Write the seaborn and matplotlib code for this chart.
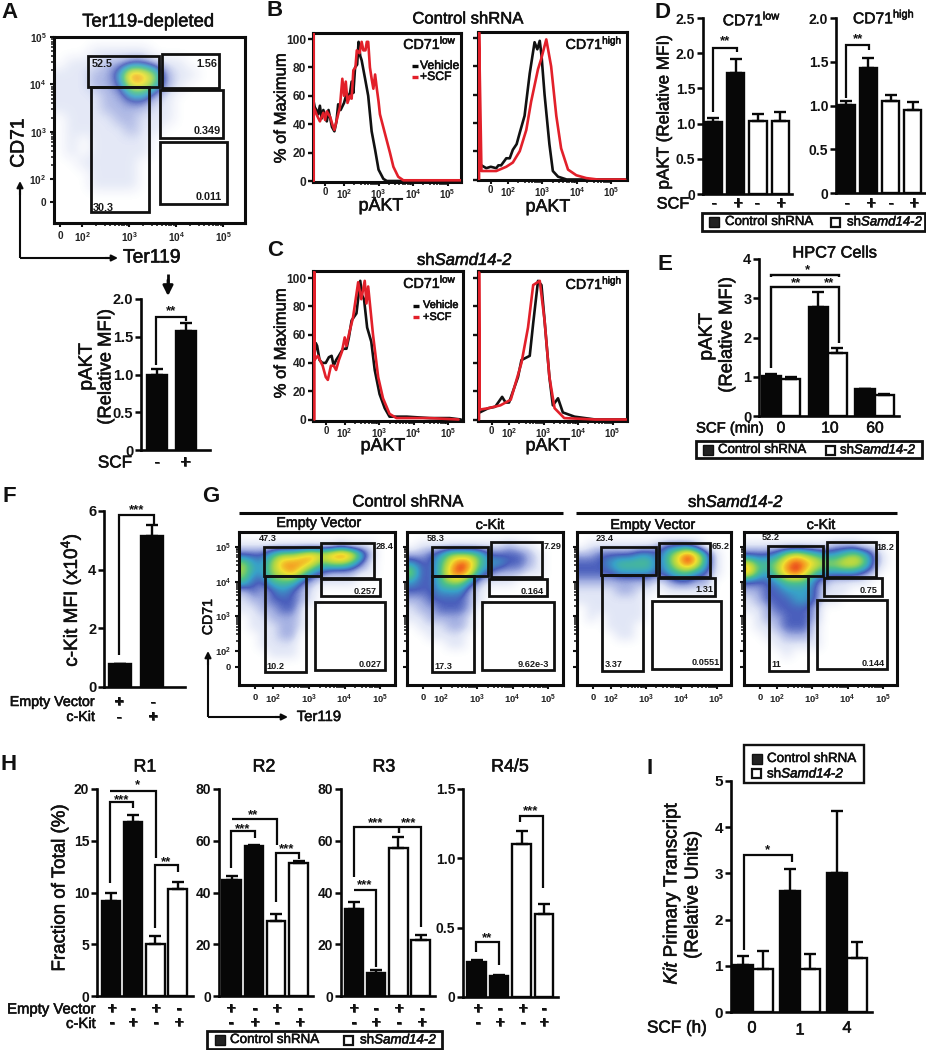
import numpy as np
import pandas as pd
import matplotlib
matplotlib.use('Agg')
import matplotlib.pyplot as plt
import matplotlib.patheffects as pe
from matplotlib.colors import LinearSegmentedColormap
from matplotlib.patches import Rectangle
import seaborn as sns

sns.set_theme(style='white')
plt.rcParams['font.family'] = ['Liberation Sans', 'DejaVu Sans']
plt.rcParams['mathtext.fontset'] = 'custom'
plt.rcParams['mathtext.rm'] = 'Liberation Sans'
plt.rcParams['mathtext.bf'] = 'Liberation Sans:bold'
plt.rcParams['mathtext.it'] = 'Liberation Sans:italic'
plt.rcParams['mathtext.cal'] = 'Liberation Sans:italic'
plt.rcParams['mathtext.default'] = 'rm'

W, H = 926, 1050
SAMD = r'sh$\mathcal{Samd14}\text{-}\mathcal{2}$'
SHRNA = 'Control shRNA'

# ---------- bar data ----------
a_vals = [1.0, 1.57];                 a_top = [1.07, 1.68]
d1_vals = [1.02, 1.72, 1.03, 1.04];   d1_top = [1.08, 1.92, 1.13, 1.16]
d2_vals = [1.01, 1.43, 1.05, 0.95];   d2_top = [1.05, 1.54, 1.12, 1.04]
e_times = ['0', '10', '60']
e_ctrl = [1.03, 2.78, 0.68];          e_ctrl_top = [1.07, 3.17, 0.70]
e_sh = [0.95, 1.60, 0.54];            e_sh_top = [0.99, 1.72, 0.56]
f_vals = [0.77, 5.15];                f_top = [0.80, 5.52]
h1_vals = [9.2, 16.8, 5.0, 10.3];     h1_top = [10.0, 17.5, 5.8, 11.0]
h2_vals = [44.7, 58.0, 28.8, 51.5];   h2_top = [46.5, 58.5, 31.5, 52.3]
h3_vals = [33.5, 9.0, 57.3, 21.5];    h3_top = [36.3, 10.2, 61.5, 23.5]
h4_vals = [0.25, 0.155, 1.10, 0.60];  h4_top = [0.27, 0.16, 1.20, 0.67]
i_times = ['0', '1', '4']
i_ctrl = [1.02, 2.62, 3.0];           i_ctrl_top = [1.22, 3.10, 4.35]
i_sh = [0.93, 0.92, 1.17];            i_sh_top = [1.33, 1.26, 1.52]

# ---------- histogram data (log10 pAKT, % of maximum) ----------
b1_bk_x = [1.11,1.15,1.2,1.25,1.3,1.35,1.4,1.45,1.5,1.55,1.6,1.65,1.72,1.78,1.83,1.9,2.0,2.08,2.15,2.22,2.27,2.32,2.38,2.42,2.47,2.51,2.61,2.7,2.8,2.9,3.0,3.14,3.24,5.4]
b1_bk_y = [57,52,50,47,53,44,50,46,42,50,44,38,35,42,54,50,55,62,58,70,62,80,82,98,88,85,72,60,35,22,8,1.5,0,0]
b1_rd_x = [1.12,1.12,1.12,1.2,1.3,1.4,1.45,1.5,1.6,1.66,1.72,1.8,1.88,1.95,2.0,2.05,2.1,2.17,2.22,2.27,2.33,2.37,2.45,2.51,2.56,2.62,2.66,2.7,2.75,2.8,2.85,2.9,2.95,3.0,3.04,3.19,3.33,3.43,3.57,3.72,5.4]
b1_rd_y = [0,104,52,47,42,48,43,49,45,40,36,44,52,72,60,70,55,60,58,78,80,92,90,98,92,92,98,98,80,72,65,75,65,56,47,33,20,10,3,0.5,0.5]
b2_bk_x = [1.23,1.37,1.5,1.66,1.72,1.8,1.95,2.05,2.14,2.25,2.34,2.48,2.63,2.77,2.85,2.92,2.97,3.06,3.2,3.3,3.45,3.7,5.4]
b2_bk_y = [10,8,9,8,10,10,15,15,21,25,33,45,75,97,92,98,88,60,25,6,2,0,0]
b2_rd_x = [1.16,1.16,1.23,1.66,1.95,2.14,2.34,2.53,2.67,2.87,2.96,3.11,3.25,3.4,3.54,3.74,3.98,4.27,4.6,5.4]
b2_rd_y = [0,104,6,6,9,12,20,35,55,78,85,99,80,45,22,7,3,1,0,0]
c1_bk_x = [1.12,1.16,1.2,1.27,1.35,1.45,1.54,1.62,1.68,1.75,1.83,1.95,2.05,2.12,2.2,2.34,2.45,2.5,2.56,2.65,2.77,2.87,3.01,3.16,3.3,3.8,4.46,5.04,5.37]
c1_bk_y = [45,54,52,42,40,40,44,45,38,42,45,50,50,58,70,75,98,88,85,65,55,35,18,8,2,2,1,1,0]
c1_rd_x = [1.12,1.12,1.12,1.22,1.36,1.45,1.51,1.6,1.68,1.75,1.83,1.92,2.0,2.05,2.12,2.24,2.39,2.48,2.58,2.63,2.68,2.82,2.97,3.11,3.3,3.5,4.46,5.3]
c1_rd_y = [0,104,42,45,38,30,28,38,38,35,42,48,58,52,60,72,97,85,98,82,94,60,30,15,4,1,1,0]
c2_bk_x = [1.15,1.4,1.6,1.8,1.9,2.0,2.26,2.36,2.6,2.7,2.84,2.94,3.03,3.17,3.27,3.42,3.56,3.9,4.5,5.4]
c2_bk_y = [5,8,9,16,12,12,30,42,45,68,98,95,70,30,10,15,5,2,0,0]
c2_rd_x = [1.13,1.13,1.15,1.4,1.75,2.05,2.36,2.55,2.7,2.89,3.03,3.17,3.32,3.6,4.5,5.4]
c2_rd_y = [0,104,7,8,10,14,40,65,95,98,70,30,8,1,0,0]

# ---------- flow cytometry density (coarse reading, 0 empty .. 9 densest) ----------
a_grid = ['0', '00011111', '01112233211', '111224986211', '111223775210', '111122442100',
          '1111222211', '0111122111', '011111211', '01011111', '01011111', '0011111', '0001111', '0001111', '0']
g1_grid = ['0', '11111111112111', '33356678789852', '64468887566531', '64467864322211', '533555321111',
           '23234321', '12233321', '1122331', '0112221', '0111221', '001122', '001111', '000111', '0']
g2_grid = ['0', '01111111112110', '22346665333321', '43357985443321', '63358974322211', '43356642111',
           '33344421', '22333321', '1223332', '1122221', '0111221', '001111', '000011', '0']
g3_grid = ['0', '01111111233320', '2233334435797410', '3334555535797410', '3333444434554310', '22222222123322',
           '11112211011111', '1111111', '0111111', '0101111', '0001110', '000011', '0']
g4_grid = ['0', '111111111222110', '333467654456531', '755689876677631', '854689754444320', '3334555321111',
           '22334443111', '1233344311', '11233332', '01223332', '01123331', '00112221', '00011111', '00001', '0']

a_gates = [(.18, .551, .731, .90), (.192, .497, .057, .731), (.567, .866, .726, .91), (.555, .883, .457, .717), (.555, .904, .104, .435)]
g1_gates = [(.16, .523, .711, .902), (.523, .866, .702, .928), (.523, .905, .58, .696), (.485, .935, .098, .543), (.168, .43, .087, .711)]
g2_gates = [(.16, .52, .711, .902), (.54, .865, .707, .935), (.525, .895, .58, .696), (.48, .94, .098, .543), (.16, .43, .087, .711)]
g3_gates = [(.158, .51, .72, .902), (.53, .865, .707, .93), (.523, .896, .58, .70), (.485, .935, .104, .547), (.165, .427, .091, .72)]
g4_gates = [(.159, .516, .711, .906), (.54, .864, .707, .935), (.52, .903, .582, .702), (.48, .934, .104, .554), (.163, .42, .093, .711)]

a_labels = [('52.5', .253, .856), ('1.56', .8, .856), ('0.349', .802, .492), ('0.011', .809, .142), ('30.3', .257, .081)]
g1_labels = [('47.3', .183, .958), ('28.4', .931, .907), ('0.257', .806, .613), ('0.027', .839, .133), ('10.2', .234, .12)]
g2_labels = [('58.3', .183, .958), ('7.29', .931, .907), ('0.164', .802, .613), ('9.62e-3', .811, .133), ('17.3', .232, .12)]
g3_labels = [('23.4', .181, .958), ('65.2', .935, .907), ('1.31', .83, .624), ('0.0551', .836, .144), ('3.37', .236, .133)]
g4_labels = [('52.2', .176, .962), ('18.2', .923, .9), ('0.75', .813, .62), ('0.144', .846, .14), ('11', .209, .133)]

dec_ticks = [2, 3, 4, 5]
dec_labels = [r'$\mathbf{10}^{\mathbf{2}}$', r'$\mathbf{10}^{\mathbf{3}}$', r'$\mathbf{10}^{\mathbf{4}}$', r'$\mathbf{10}^{\mathbf{5}}$']
minor_ticks = [d + m for d in (2, 3, 4) for m in (.3, .48, .6, .7, .78, .85, .9, .95)]

flow_cmap = LinearSegmentedColormap.from_list('flow', ['#ffffff', '#e1e6f6', '#a4b0e2', '#4a5fbc', '#38a2c8',
                                                      '#4cc08a', '#a8d648', '#f0e030', '#f59020', '#e4201c'])
fig = plt.figure(figsize=(W / 100, H / 100), dpi=100, facecolor='white')


def place(x0, y0, x1, y1, **kw):
    ax = fig.add_axes([x0 / W, 1 - y1 / H, (x1 - x0) / W, (y1 - y0) / H], **kw)
    ax.set_facecolor('none')
    return ax


def bars(axis_x, end_x, y0, ytop, ymax, first_c, last_c, bar_w, vals, tops, yticks, ylabels, shaded=(0, 1), fs=10):
    """Four- or two-bar panel with the first bars black and the others white."""
    ax = place(axis_x, ytop, end_x, y0)
    n = len(vals)
    s = (last_c - first_c) / (n - 1)
    df = pd.DataFrame({'c': [str(i) for i in range(n)], 'v': vals,
                       'g': ['k' if i in shaded else 'w' for i in range(n)]})
    sns.barplot(df, x='c', y='v', hue='g', palette={'k': '#070707', 'w': '#ffffff'}, dodge=False, width=(bar_w - 1.5) / s,
                edgecolor='#070707', linewidth=1.7, saturation=1, legend=False, errorbar=None, ax=ax)
    finish(ax, tops, axis_x, end_x, first_c, s, ymax, yticks, ylabels, fs)
    return ax


def grouped(axis_x, end_x, y0, ytop, ymax, first_c, last_c, w, cats, a, atop, b, btop, yticks, ylabels, fs=10):
    ax = place(axis_x, ytop, end_x, y0)
    s = (last_c - first_c) / (len(cats) - 1)
    df = pd.DataFrame({'c': cats * 2, 'v': a + b, 'g': ['k'] * len(a) + ['w'] * len(b)})
    sns.barplot(df, x='c', y='v', hue='g', palette={'k': '#070707', 'w': '#ffffff'}, dodge=True, gap=0, width=w / s,
                edgecolor='#070707', linewidth=1.7, saturation=1, legend=False, errorbar=None, ax=ax)
    tops = [t for pair in zip(atop, btop) for t in pair]
    finish(ax, tops, axis_x, end_x, first_c, s, ymax, yticks, ylabels, fs)
    return ax


def finish(ax, tops, axis_x, end_x, first_c, s, ymax, yticks, ylabels, fs):
    ps = sorted([p for p in ax.patches if p.get_height() > 0], key=lambda p: p.get_x())
    for p, t in zip(ps, tops):
        cx = p.get_x() + p.get_width() / 2
        h = p.get_height()
        ax.errorbar([cx], [h], yerr=[[0], [t - h]], color='#070707', elinewidth=1.7, capsize=4.2, capthick=1.7, zorder=1)
    ax.set_xlim((axis_x - first_c) / s, (end_x - first_c) / s)
    ax.set_ylim(0, ymax)
    ax.set_xlabel('')
    ax.set_ylabel('')
    ax.set_xticks([])
    ax.set_yticks(yticks)
    ax.set_yticklabels(ylabels, fontsize=fs, fontweight='bold', color='#111111')
    ax.tick_params(axis='y', length=4, width=1.8, pad=1.5, left=True, color='#070707')
    sns.despine(ax=ax)
    for k in ('left', 'bottom'):
        ax.spines[k].set_linewidth(1.9)
        ax.spines[k].set_color('#070707')


def flow(x0, y0, x1, y1, grid, gates, labels, xlim, ylim, zero_x, zero_y, show_y=True, fs=6.8, lfs=6.6, alpha=1.0, glw=2.0):
    ax = place(x0, y0, x1, y1)
    arr = np.array([[int(c) for c in r.ljust(16, '0')] for r in grid + ['0'] * (17 - len(grid))], dtype=float)
    ax.imshow(arr, extent=(xlim[0], xlim[1], ylim[0], ylim[1]), aspect='auto', cmap=flow_cmap, vmin=0, vmax=9,
              interpolation='bicubic', alpha=alpha, zorder=0)
    ax.set_xlim(*xlim)
    ax.set_ylim(*ylim)
    for gx0, gx1, gy0, gy1 in gates:
        ax.add_patch(Rectangle((gx0, gy0), gx1 - gx0, gy1 - gy0, transform=ax.transAxes, fill=False,
                               edgecolor='#111111', linewidth=glw, zorder=3))
    for s, fx, fy in labels:
        ax.text(fx, fy, s, transform=ax.transAxes, ha='center', va='center', fontsize=lfs, fontweight='bold',
                color='#1a1a1a', zorder=4)
    ticks_frame(ax, zero_x, zero_y, show_y, fs, glw + .2, True, 2.5)
    return ax


def ticks_frame(ax, zero_x, zero_y, show_y, fs, lw, flow_y, pad):
    ax.set_xticks([zero_x] + dec_ticks)
    ax.set_xticklabels(['0'] + dec_labels, fontsize=fs, fontweight='bold', color='#222222')
    ax.set_xticks(minor_ticks, minor=True)
    if flow_y:
        ax.set_yticks([zero_y] + dec_ticks)
        ax.set_yticklabels((['0'] + dec_labels) if show_y else [''] * 5, fontsize=fs, fontweight='bold', color='#222222')
        ax.set_yticks(minor_ticks, minor=True)
    ax.tick_params(which='major', length=3, width=1.5, pad=pad, bottom=True, left=True, color='#111111')
    ax.tick_params(which='minor', length=2, width=1.1, bottom=True, left=flow_y, color='#111111')
    for sp in ax.spines.values():
        sp.set_visible(True)
        sp.set_linewidth(lw)
        sp.set_color('#0c0c0c')
    ax.grid(False)


def hist(x0, y0, x1, y1, xlim, bk, rd, y_px0, y_px100, show_y, zero_x=1.46):
    ax = place(x0, y0, x1, y1)
    k = (y_px0 - y_px100) / 100
    sns.lineplot(x=bk[0], y=bk[1], color='#111111', lw=1.9, sort=False, estimator=None, errorbar=None, ax=ax, zorder=3.5)
    sns.lineplot(x=rd[0], y=rd[1], color='#e2202a', lw=1.9, sort=False, estimator=None, errorbar=None, ax=ax, zorder=3.6)
    ax.set_xlim(*xlim)
    ax.set_ylim(-(y1 - y_px0) / k, (y_px0 - y0) / k)
    ax.set_yticks(range(0, 101, 20))
    ax.set_yticklabels([str(v) for v in range(0, 101, 20)] if show_y else [''] * 6, fontsize=8.6, fontweight='bold', color='#222222')
    ax.set_xlabel('')
    ax.set_ylabel('')
    ticks_frame(ax, zero_x, 0, show_y, 7.0, 2.2, False, 0.4)
    ax.tick_params(axis='y', which='major', length=3.5, width=1.7, left=True, pad=1.5)
    return ax


# ---------- A ----------
flow(54, 37, 245, 223, a_grid, a_gates, a_labels, (1.40, 5.47), (1.08, 5.0), 1.53, 1.52, fs=7.2, lfs=7.8, alpha=.9)
bars(141, 210, 450, 299, 2.0, 157, 186, 22, a_vals, a_top, [0, .5, 1, 1.5, 2], ['0', '0.5', '1.0', '1.5', '2.0'], fs=10.5)

# ---------- B / C ----------
hist(313, 33, 461, 182, (1.1, 5.39), (b1_bk_x, b1_bk_y), (b1_rd_x, b1_rd_y), 181, 39, True)
hist(478, 32, 627, 180, (1.13, 5.45), (b2_bk_x, b2_bk_y), (b2_rd_x, b2_rd_y), 179.5, 38, False, zero_x=1.5)
hist(313, 271, 463, 421, (1.08, 5.43), (c1_bk_x, c1_bk_y), (c1_rd_x, c1_rd_y), 419.5, 278, True)
hist(478, 271, 627, 421, (1.1, 5.42), (c2_bk_x, c2_bk_y), (c2_rd_x, c2_rd_y), 419.5, 278, False, zero_x=1.5)

# ---------- D ----------
bars(703, 792, 194, 18, 2.5, 713, 780.5, 19, d1_vals, d1_top, [0, .5, 1, 1.5, 2, 2.5], ['0', '0.5', '1.0', '1.5', '2.0', '2.5'])
bars(836, 925, 193, 18, 2.0, 846, 913, 18.5, d2_vals, d2_top, [0, .5, 1, 1.5, 2], ['0', '0.5', '1.0', '1.5', '2.0'])

# ---------- E ----------
grouped(759, 899, 416, 259, 4, 781, 874.5, 38.5, e_times, e_ctrl, e_ctrl_top, e_sh, e_sh_top, [0, 1, 2, 3, 4], ['0', '1', '2', '3', '4'], fs=10.5)

# ---------- F ----------
bars(104, 185, 687, 511, 6, 120, 152, 23, f_vals, f_top, [0, 2, 4, 6], ['0', '2', '4', '6'], fs=10.5)

# ---------- G ----------
gx = (1.05, 5.41)
gy = (1.02, 5.43)
flow(239, 532, 395, 685, g1_grid, g1_gates, g1_labels, gx, gy, 1.5, 1.54)
flow(407, 532, 563, 685, g2_grid, g2_gates, g2_labels, gx, gy, 1.5, 1.54, show_y=False)
flow(577, 532, 731, 685, g3_grid, g3_gates, g3_labels, gx, gy, 1.5, 1.54, show_y=False)
flow(744, 532, 897, 685, g4_grid, g4_gates, g4_labels, gx, gy, 1.5, 1.54, show_y=False)

# ---------- H ----------
bars(97, 193, 996, 789, 20, 111, 177.5, 20, h1_vals, h1_top, [0, 5, 10, 15, 20], ['0', '5', '10', '15', '20'])
bars(219, 313, 996, 789, 80, 231.5, 298.5, 20, h2_vals, h2_top, [0, 20, 40, 60, 80], ['0', '20', '40', '60', '80'])
bars(341, 435, 996, 789, 80, 354, 420.5, 20, h3_vals, h3_top, [0, 20, 40, 60, 80], ['0', '20', '40', '60', '80'])
bars(463, 558, 997, 789, 1.5, 476.5, 544, 20, h4_vals, h4_top, [0, .5, 1, 1.5], ['0', '0.5', '1.0', '1.5'])

# ---------- I ----------
grouped(731, 872, 1012, 781, 5, 753, 847, 40, i_times, i_ctrl, i_ctrl_top, i_sh, i_sh_top, [0, 1, 2, 3, 4, 5], ['0', '1', '2', '3', '4', '5'], fs=11)

# ---------- overlay: annotations in figure pixels ----------
ov = fig.add_axes([0, 0, 1, 1], zorder=20)
ov.set_xlim(0, W)
ov.set_ylim(H, 0)
ov.axis('off')
ov.patch.set_alpha(0)


def T(x, y, s, fs=10, ha='center', rot=0, c='#111111', bold=False):
    t = ov.text(x, y, s, fontsize=fs if bold else fs * 1.07, ha=ha, va='center', rotation=rot,
                fontweight='bold' if bold else 'normal', color=c, rotation_mode='anchor')
    if not bold:
        t.set_path_effects([pe.withStroke(linewidth=.4, foreground=c)])


def L(xs, ys, lw=1.7, c='#0a0a0a'):
    ov.plot(xs, ys, color=c, lw=lw, solid_capstyle='butt', solid_joinstyle='miter', clip_on=False)


def arrow(x0, y0, x1, y1, lw=1.5, ms=9):
    ov.annotate('', xy=(x1, y1), xytext=(x0, y0),
                arrowprops=dict(arrowstyle='-|>', lw=lw, color='#0a0a0a', mutation_scale=ms, shrinkA=0, shrinkB=0))


def bracket(pts, star_x, star_y, stars, lw=1.6):
    L([p[0] for p in pts], [p[1] for p in pts], lw=lw)
    T(star_x, star_y, stars, fs=9.5, bold=True)


def legend_box(x0, y0, x1, y1, s0x, t0x, s1x, t1x, y, fs=10.5):
    ov.add_patch(Rectangle((x0, y0), x1 - x0, y1 - y0, fill=False, ec='#111111', lw=2.0))
    ov.add_patch(Rectangle((s0x, y - 5), 10, 10, fc='#222222', ec='#111111', lw=1))
    T(t0x, y, SHRNA, fs=fs, ha='left')
    ov.add_patch(Rectangle((s1x, y - 4.5), 9, 9, fc='white', ec='#111111', lw=1.6))
    T(t1x, y, SAMD, fs=fs, ha='left')


for s, x, y in [('A', 10, 13), ('B', 275, 11), ('C', 275, 251), ('D', 663, 12), ('E', 665, 265),
                ('F', 9, 497), ('G', 211, 496), ('H', 9, 765), ('I', 650, 768)]:
    T(x, y, s, fs=16, bold=True)

# A
T(148, 22, 'Ter119-depleted', fs=12.4)
T(19, 143, 'CD71', fs=13, rot=90)
T(152, 258, 'Ter119', fs=13)
L([20, 20], [258, 190], lw=1.5); arrow(20, 195, 20, 181)
L([20, 110], [258, 258], lw=1.5); arrow(105, 258, 118, 258)
L([168, 168], [274, 284], lw=2.0); arrow(168, 280, 168, 296, lw=2, ms=15)
T(87, 367, 'pAKT', fs=12.8, rot=90)
T(106, 367, '(Relative MFI)', fs=12.4, rot=90)
T(115, 463, 'SCF', fs=11.5); T(157, 463, '-', fs=12); T(185, 463, '+', fs=12.5)
bracket([(156, 365), (156, 317), (186, 317), (186, 321)], 171, 311, '**')

# B / C
T(468, 19, SHRNA, fs=11.2)
T(465, 260, SAMD, fs=11.2)
T(430, 43, r'CD71$^{low}$', fs=9.6); T(594, 43, r'CD71$^{high}$', fs=9.6)
T(430, 282, r'CD71$^{low}$', fs=9.6); T(594, 283, r'CD71$^{high}$', fs=9.6)
T(281, 108, '% of Maximum', fs=11.2, rot=90); T(281, 343, '% of Maximum', fs=11.2, rot=90)
for x, y in [(381, 206), (548, 207), (383, 446), (548, 446)]:
    T(x, y, 'pAKT', fs=12)
L([412, 418], [66, 66], lw=2.4); L([412, 418], [77, 77], lw=2.4, c='#e2202a')
T(420, 66, 'Vehicle', fs=8.2, ha='left'); T(420, 77, '+SCF', fs=8.2, ha='left')
L([413, 419], [306, 306], lw=2.4); L([413, 419], [317, 317], lw=2.4, c='#e2202a')
T(423, 305, 'Vehicle', fs=7.4, ha='left'); T(423, 317, '+SCF', fs=7.4, ha='left')

# D
T(752, 19, r'CD71$^{low}$', fs=10.5); T(884, 17, r'CD71$^{high}$', fs=10.5)
T(664, 112, 'pAKT (Relative MFI)', fs=11.5, rot=90)
T(673, 204, 'SCF', fs=11)
for x, s in [(714, '-'), (738, '+'), (757, '-'), (781, '+'), (847, '-'), (871, '+'), (891, '-'), (914, '+')]:
    T(x, 204, s, fs=12)
bracket([(713, 112), (713, 48), (737, 48), (737, 52)], 725, 41, '**')
bracket([(846, 98), (846, 45), (869, 45), (869, 50)], 858, 39, '**')
legend_box(702, 213, 925, 231, 709, 725, 831, 847, 222, fs=8.9)

# E
T(835, 253, 'HPC7 Cells', fs=11)
T(707, 337, 'pAKT', fs=12.8, rot=90); T(727, 335, '(Relative MFI)', fs=12.4, rot=90)
T(730, 428.5, 'SCF (min)', fs=10)
for x, s in [(781, '0'), (830, '10'), (875, '60')]:
    T(x, 428, s, fs=10.5)
L([771, 771, 839, 839], [277, 275, 275, 277]); T(807, 270, '*', fs=9.5, bold=True)
L([771, 771, 839, 839], [368, 287, 287, 343]); T(796, 283, '**', fs=9.5, bold=True); T(829, 283, '**', fs=9.5, bold=True)
legend_box(696, 441, 922, 458, 703, 718, 826, 840, 450, fs=8.9)

# F
T(71, 600, r'c-Kit MFI (x10$^{4}$)', fs=12.8, rot=90)
T(95, 702, 'Empty Vector', fs=9.6, ha='right'); T(95, 717, 'c-Kit', fs=9.6, ha='right')
T(119, 702, '+', fs=11); T(153, 702, '-', fs=11); T(119, 717, '-', fs=11); T(153, 717, '+', fs=11)
bracket([(119, 655), (119, 515), (154, 515), (154, 525)], 137, 510, '***')

# G
T(408, 502, SHRNA, fs=11.2); T(736, 502, SAMD, fs=11.2)
L([239, 563], [513, 513], lw=2.2); L([576, 897], [513, 513], lw=2.2)
T(319, 523, 'Empty Vector', fs=9.6); T(490, 525, 'c-Kit', fs=9.6); T(653, 525, 'Empty Vector', fs=9.6); T(821, 525, 'c-Kit', fs=9.6)
T(208, 617, 'CD71', fs=9.5, rot=90)
T(319, 717, 'Ter119', fs=10)
L([208, 208], [717, 660], lw=1.5); arrow(208, 665, 208, 651)
L([208, 280], [717, 717], lw=1.5); arrow(275, 717, 288, 717)

# H
for x, s in [(145, 'R1'), (264, 'R2'), (384, 'R3'), (510, 'R4/5')]:
    T(x, 767, s, fs=12)
T(60, 888, 'Fraction of Total (%)', fs=12.6, rot=90)
T(96, 1009.5, 'Empty Vector', fs=10, ha='right'); T(96, 1024, 'c-Kit', fs=10, ha='right')
for xs in ([112, 133, 156, 179], [231, 255, 277, 300], [354, 376, 399, 422], [478, 500, 523, 544]):
    for x, top, bot in zip(xs, ['+', '-', '+', '-'], ['-', '+', '-', '+']):
        T(x, 1009, top, fs=11.5); T(x, 1023, bot, fs=11.5)
bracket([(110, 791), (156, 791), (156, 858)], 137, 785, '*')
bracket([(110, 883), (110, 802), (133, 802), (133, 808)], 122, 800, '***')
bracket([(155, 928), (155, 865), (178, 865), (178, 872)], 166, 862, '**')
bracket([(232, 819), (277, 819), (277, 845)], 253, 815, '**')
bracket([(231, 868), (231, 831), (255, 831), (255, 838)], 243, 829, '***')
bracket([(276, 902), (276, 853), (299, 853), (299, 859)], 287, 849, '***')
bracket([(354, 877), (354, 827), (421, 827), (421, 927)], 376, 823, '***')
L([399, 399], [827, 833]); T(409, 823, '***', fs=9.5, bold=True)
bracket([(354, 890), (376, 890), (376, 967)], 365, 885, '***')
bracket([(476, 952), (476, 942), (499, 942), (499, 965)], 487, 938, '**')
bracket([(519.5, 822), (519.5, 816), (542.5, 816), (542.5, 888)], 531, 811, '***')
legend_box(207, 1031, 442, 1049, 215, 230, 344, 360, 1040, fs=9)

# I
T(672, 893, r'$\mathcal{Kit}$ Primary Transcript', fs=12.7, rot=90)
T(693, 895, '(Relative Units)', fs=12.6, rot=90)
T(677, 1028, 'SCF (h)', fs=11.5)
for x, y, s in [(752, 1028, '0'), (800, 1030, '1'), (847, 1028, '4')]:
    T(x, y, s, fs=11)
bracket([(744, 950), (744, 855), (792, 855), (792, 862)], 767, 850, '*')
ov.add_patch(Rectangle((744, 745), 120, 38, fill=False, ec='#111111', lw=1.7))
ov.add_patch(Rectangle((752, 754), 10, 10, fc='#222222', ec='#111111', lw=1))
ov.add_patch(Rectangle((752, 769), 9, 9, fc='white', ec='#111111', lw=1.6))
T(767, 759, SHRNA, fs=9, ha='left'); T(767, 774, SAMD, fs=9, ha='left')

fig.savefig('out.png', dpi=100, facecolor='white')
